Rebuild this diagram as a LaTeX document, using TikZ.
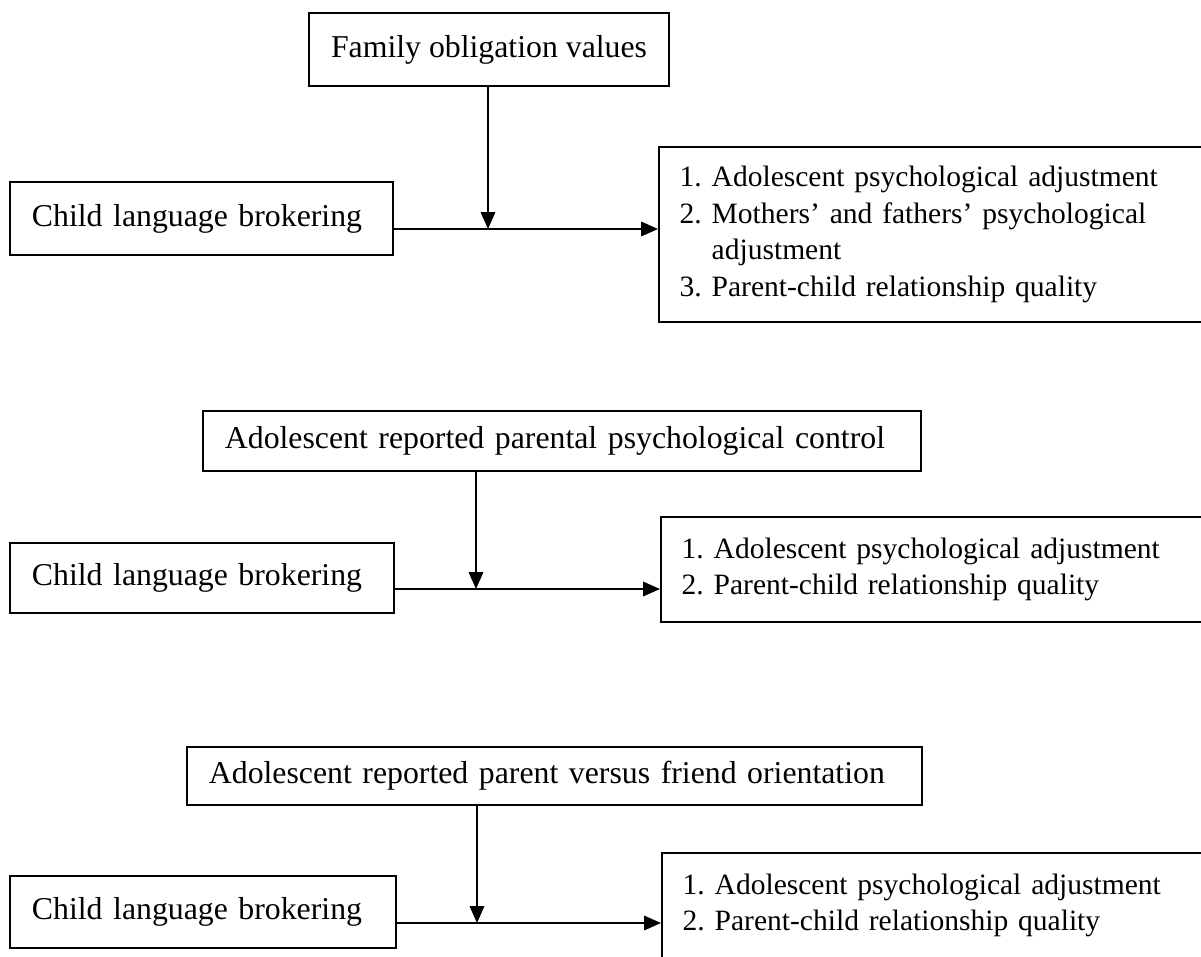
\documentclass[tikz,border=0pt]{standalone}
\usepackage{fontspec}
\setmainfont{Liberation Serif}
\usetikzlibrary{arrows.meta}
\frenchspacing

\begin{document}
\begin{tikzpicture}[
  line width = 1.3pt,
  x = 0.025cm,
  y = -0.025cm,
  > = {Triangle[length = 0.42cm, width = 0.36cm]},
  factor/.style = {draw, align = left, inner xsep = 0.55cm, inner ysep = 0pt,
    font = \fontsize{22.6}{27}\selectfont},
  outcome/.style = {draw, anchor = west, align = left, inner xsep = 0.52cm,
    inner ysep = 0pt, text width = 13.5cm, font = \fontsize{21}{26.2}\selectfont},
  ]

  \useasboundingbox (0, 0) rectangle (1201, 956);
  \clip (0, 0) rectangle (1201, 956);

  % first model
  \node at (489, 49.5)
  [factor, align = center, minimum width = 9cm, minimum height = 1.825cm,
  name = Obligation] {Family obligation values};

  \node at (201.5, 218.5)
  [factor, text width = 8.475cm, minimum height = 1.825cm,
  name = Brokering1] {Child language brokering};

  \node at (658, 234.5)
  [outcome, minimum height = 4.375cm, name = Outcomes1]
  {1. Adolescent psychological adjustment\\
    2. Mothers' and fathers' psychological\\
    \phantom{2.}~adjustment\\
    3. Parent-child relationship quality};

  \coordinate (Meet1) at (488, 229);

  \draw [->] (Brokering1.east |- Meet1) to (Meet1 -| Outcomes1.west);

  \draw [->] (Obligation.south -| Meet1) to (Meet1);

  % second model
  \node at (562, 441)
  [factor, text width = 16.85cm, minimum height = 1.5cm,
  name = Control] {Adolescent reported parental psychological control};

  \node at (202, 578)
  [factor, text width = 8.5cm, minimum height = 1.75cm,
  name = Brokering2] {Child language brokering};

  \node at (660, 569.5)
  [outcome, minimum height = 2.625cm, name = Outcomes2]
  {1. Adolescent psychological adjustment\\
    2. Parent-child relationship quality};

  \coordinate (Meet2) at (476, 589);

  \draw [->] (Brokering2.east |- Meet2) to (Meet2 -| Outcomes2.west);

  \draw [->] (Control.south -| Meet2) to (Meet2);

  % third model
  \node at (554.5, 776)
  [factor, text width = 17.275cm, minimum height = 1.45cm,
  name = Orientation] {Adolescent reported parent versus friend orientation};

  \node at (203, 912)
  [factor, text width = 8.55cm, minimum height = 1.8cm,
  name = Brokering3] {Child language brokering};

  \node at (661, 905.5)
  [outcome, minimum height = 2.625cm, name = Outcomes3]
  {1. Adolescent psychological adjustment\\
    2. Parent-child relationship quality};

  \coordinate (Meet3) at (477, 923);

  \draw [->] (Brokering3.east |- Meet3) to (Meet3 -| Outcomes3.west);

  \draw [->] (Orientation.south -| Meet3) to (Meet3);

\end{tikzpicture}
\end{document}
